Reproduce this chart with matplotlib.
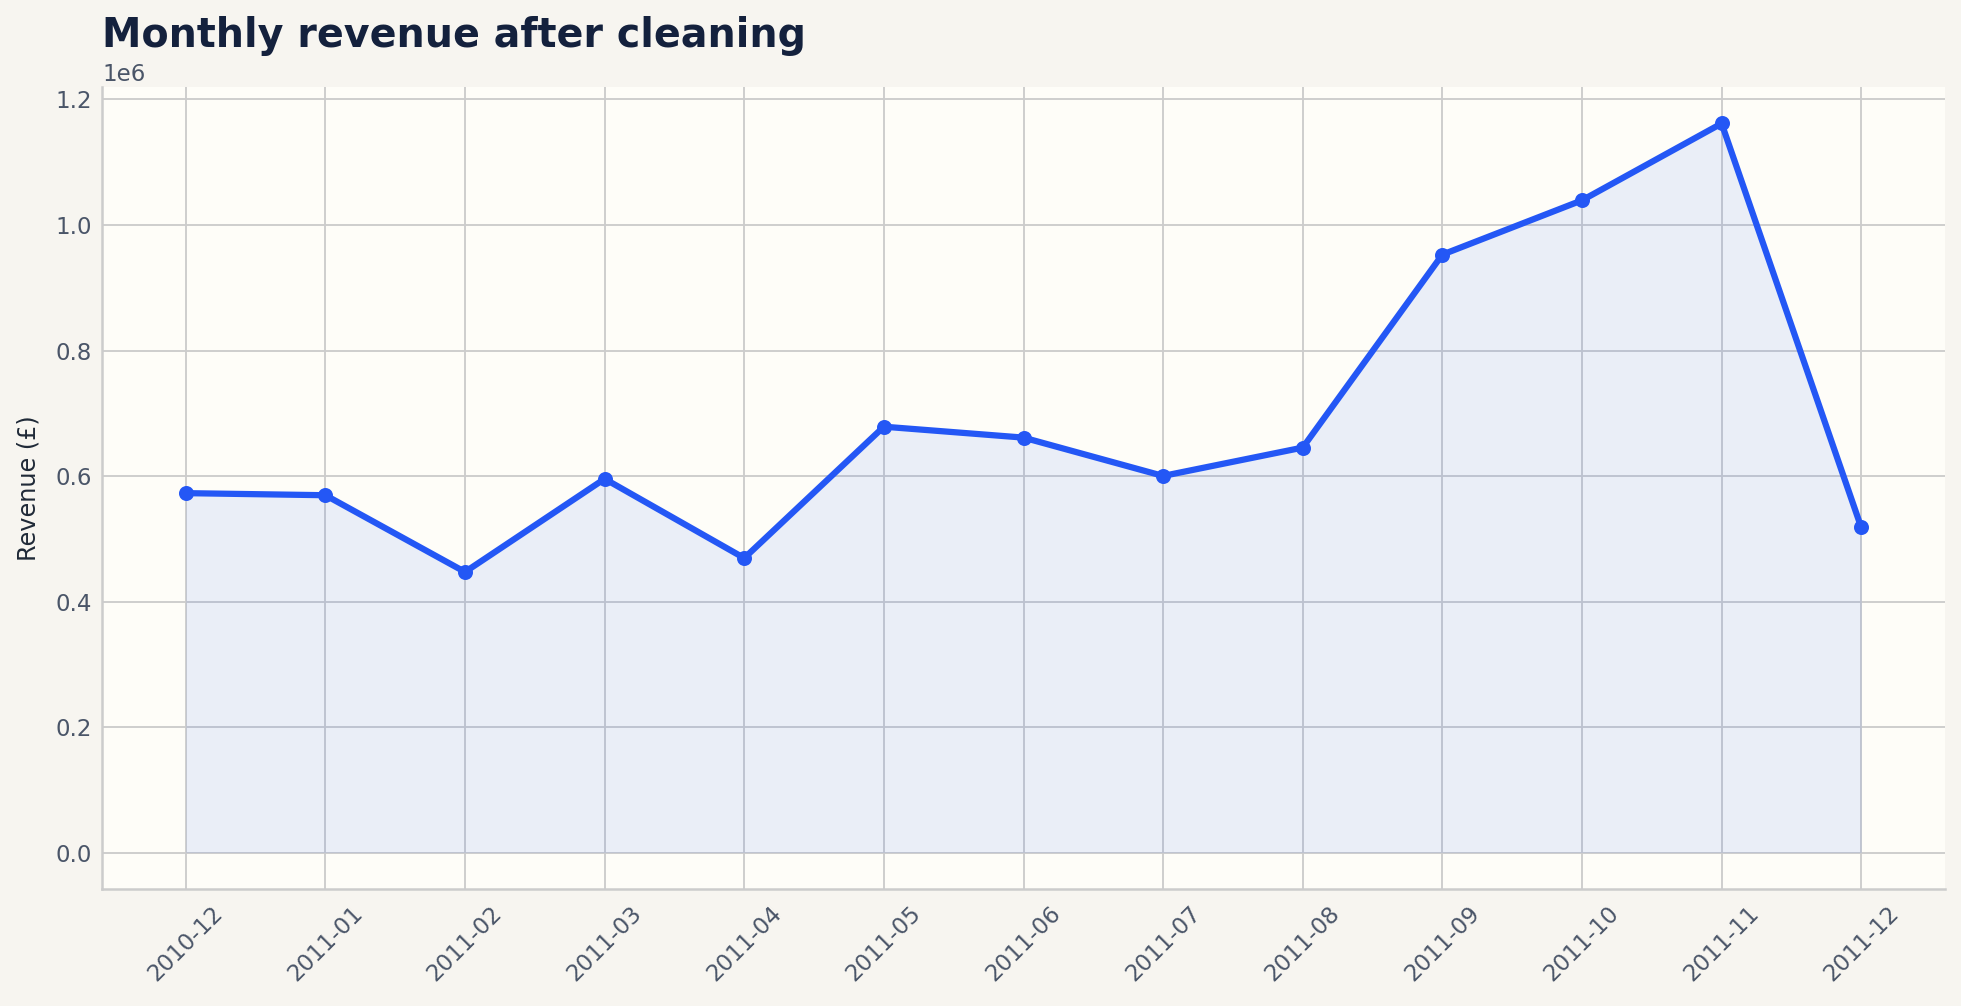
#!/usr/bin/python
# -*- coding: utf-8 -*-
##########################################################################################
# monthly revenue after cleaning - line chart with shaded area
##########################################################################################

import numpy as np
import matplotlib as mpl
mpl.use('Agg')
from matplotlib import pyplot as plt

##########################################################################################
# data

months = ['2010-12', '2011-01', '2011-02', '2011-03', '2011-04', '2011-05', '2011-06',
          '2011-07', '2011-08', '2011-09', '2011-10', '2011-11', '2011-12']

revenue = [572700, 569400, 447100, 595500, 469200, 678600, 661200,
           600100, 645300, 952800, 1039300, 1161800, 518200]

titlestr = 'Monthly revenue after cleaning'
ylabelstr = 'Revenue (£)'

# colors
pColors = {'fig': '#F7F5F0',
           'axes': '#FEFDF8',
           'line': '#2457F5',
           'grid': '#CCCCCC',
           'title': '#14213D',
           'ticks': '#4A5568',
           'label': '#1F2937'}

def Plot(outname = 'out.png'):

    mpl.rc('font', **{'family': 'sans-serif', 'sans-serif': ['DejaVu Sans']})

    ######################################################################################
    # set up figure (1961 x 1006 px at 150 dpi)
    dpi = 150.0
    f, ax1 = plt.subplots(1, figsize = (1961 / dpi, 1006 / dpi), dpi = dpi)
    f.patch.set_facecolor(pColors['fig'])
    ax1.set_facecolor(pColors['axes'])
    f.subplots_adjust(left = 102 / 1961, right = 1945 / 1961,
                      bottom = 1 - 889 / 1006, top = 1 - 87 / 1006)

    # minimal layout
    ax1.spines['right'].set_visible(False)
    ax1.spines['top'].set_visible(False)
    for side in ['left', 'bottom']:
        ax1.spines[side].set_color(pColors['grid'])
        ax1.spines[side].set_linewidth(1.2)

    ######################################################################################
    # plotting
    x = np.arange(len(months))
    y = np.array(revenue, dtype = float)

    ax1.fill_between(x, y, 0.0, color = pColors['line'], alpha = 0.09,
                     lw = 0, zorder = 2)
    ax1.plot(x, y, color = pColors['line'], lw = 3.0, marker = 'o',
             markersize = 6.2, zorder = 3)

    ######################################################################################
    # grid + ticks
    ax1.set_axisbelow(True)
    ax1.grid(color = pColors['grid'], linestyle = '-', linewidth = 0.9, zorder = 0)

    ax1.set_xticks(x)
    ax1.set_xticklabels(months, rotation = 45)
    ax1.tick_params('both', length = 0, pad = 5, labelsize = 11,
                    labelcolor = pColors['ticks'])
    ax1.tick_params(axis = 'x', pad = 6)

    ax1.set_yticks([0.0, 0.2e6, 0.4e6, 0.6e6, 0.8e6, 1.0e6, 1.2e6])
    ax1.yaxis.get_offset_text().set_fontsize(11)
    ax1.yaxis.get_offset_text().set_color(pColors['ticks'])

    ######################################################################################
    # labeling
    ax1.set_title(titlestr, loc = 'left', fontsize = 19, fontweight = 'bold',
                  color = pColors['title'], pad = 7.5)
    ax1.set_ylabel(ylabelstr, fontsize = 11.5, color = pColors['label'])
    ax1.yaxis.labelpad = 7

    ######################################################################################
    # save to file
    f.savefig(outname, dpi = dpi, facecolor = pColors['fig'])
    plt.close()
    return outname

if __name__ == '__main__':
    Plot('out.png')
